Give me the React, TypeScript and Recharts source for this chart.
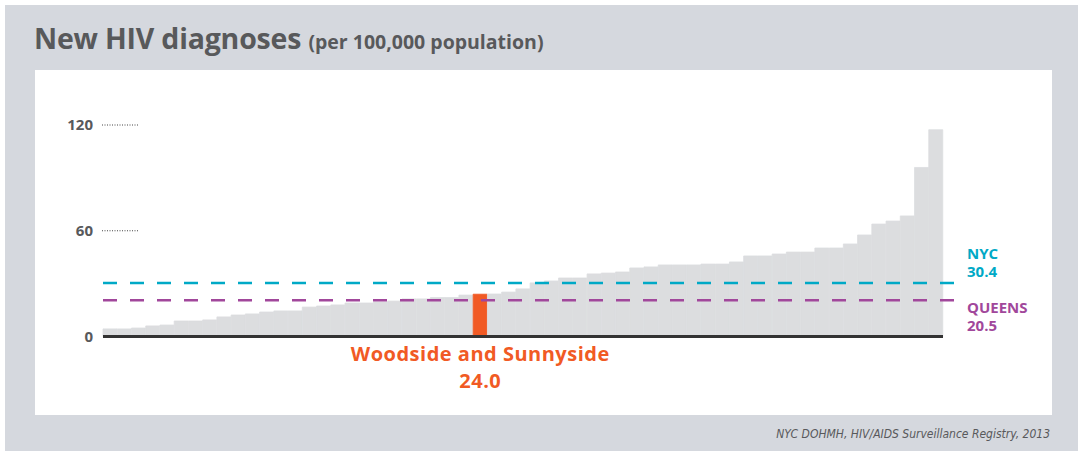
import React from 'react';
import { BarChart, Bar, XAxis, YAxis, Cell, ReferenceLine } from 'recharts';

// community district rates, sorted low to high
const rates = [
  4.3, 4.3, 4.8, 6.0, 6.5, 8.8, 8.8, 9.4, 11.1, 12.2,
  12.8, 13.9, 14.5, 14.5, 16.7, 17.3, 17.9, 19.0, 19.0, 19.6,
  20.1, 21.3, 21.3, 22.1, 22.1, 23.5, 24.0, 24.1, 25.2, 27.0,
  30.4, 31.5, 33.2, 33.2, 35.5, 36.0, 36.6, 38.9, 39.5, 40.6,
  40.6, 40.6, 41.1, 41.1, 42.3, 45.7, 45.7, 46.8, 47.9, 47.9,
  50.2, 50.2, 52.5, 57.6, 63.8, 65.5, 68.4, 95.9, 117.3,
];
const districts = rates.map((_, i) => `CD${i + 1}`);
const highlightIndex = 26;
const highlightName = 'Woodside and Sunnyside';
const highlightValue = '24.0';
const yTicks = [0, 60, 120];
const nycRate = 30.4;
const queensRate = 20.5;

const data = districts.map((name, i) => ({ name, rate: rates[i] }));

const GRAY_TEXT = '#58595b';
const ORANGE = '#f15a24';
const CYAN = '#00a9c6';
const PURPLE = '#a1479b';
const BAR_GRAY = '#dcdddf';
const FONT = '"Open Sans", Lato, sans-serif';

const YTick = (props: any) => {
  const { x, y, payload } = props;
  return (
    <g>
      <text x={x - 10} y={y} dy={5} textAnchor="end" fontFamily={FONT} fontWeight={700} fontSize={15} fill={GRAY_TEXT}>
        {payload.value}
      </text>
      {payload.value !== 0 && (
        <line x1={x - 1} x2={x + 36} y1={y} y2={y} stroke="#444" strokeWidth={1} strokeDasharray="1 1.5" />
      )}
    </g>
  );
};

const XTick = (props: any) => {
  const { x, y, index } = props;
  if (index !== highlightIndex) return null;
  return (
    <g fontFamily={FONT} fontWeight={700} fontSize={20} letterSpacing={0.5} fill={ORANGE} textAnchor="middle">
      <text x={x} y={y + 24}>{highlightName}</text>
      <text x={x} y={y + 51}>{highlightValue}</text>
    </g>
  );
};

const refLine = (color: string, top: string, bottom: string, above: boolean) => (props: any) => {
  const { x1, x2, y1 } = props;
  const ty = above ? y1 - 24 : y1 + 13;
  return (
    <g>
      <line x1={x1} x2={x2 + 17} y1={y1} y2={y1} stroke={color} strokeWidth={2.5} strokeDasharray="14 13" />
      <g fontFamily={FONT} fontWeight={700} fontSize={15} fill={color}>
        <text x={x2 + 24} y={ty}>{top}</text>
        <text x={x2 + 24} y={ty + 18}>{bottom}</text>
      </g>
    </g>
  );
};

export default function App() {
  return (
    <div style={{ position: 'absolute', left: 0, top: 0, width: 1078, height: 451, background: '#fff' }}>
      <div style={{ position: 'absolute', left: 5, top: 5, width: 1073, height: 446, background: '#d5d8de' }} />
      <div style={{ position: 'absolute', left: 35, top: 70, width: 1017, height: 345, background: '#fff' }} />
      <div
        style={{
          position: 'absolute', left: 34, top: 19, fontFamily: FONT, fontWeight: 700,
          color: GRAY_TEXT, fontSize: 28.5, whiteSpace: 'nowrap', letterSpacing: -0.2,
        }}
      >
        New HIV diagnoses <span style={{ fontSize: 19.5, letterSpacing: 0 }}>(per 100,000 population)</span>
      </div>
      <div
        style={{
          position: 'absolute', right: 28, top: 427, fontFamily: '"Liberation Sans Narrow", "DejaVu Sans Condensed", sans-serif',
          fontStyle: 'italic', color: GRAY_TEXT, fontSize: 12, whiteSpace: 'nowrap',
        }}
      >
        NYC DOHMH, HIV/AIDS Surveillance Registry, 2013
      </div>
      <div style={{ position: 'absolute', left: 0, top: 0 }}>
        <BarChart
          width={1078}
          height={451}
          data={data}
          margin={{ top: 125, right: 135, bottom: 0, left: 35 }}
          barCategoryGap={0}
          barGap={0}
        >
          <YAxis
            domain={[0, 120]}
            ticks={yTicks}
            width={68}
            axisLine={false}
            tickLine={false}
            tickSize={0}
            tickMargin={0}
            tick={<YTick />}
            interval={0}
          />
          <XAxis
            dataKey="name"
            height={114.5}
            axisLine={{ stroke: '#333', strokeWidth: 3 }}
            tickLine={false}
            tickSize={0}
            tickMargin={0}
            interval={0}
            tick={<XTick />}
          />
          <Bar dataKey="rate" isAnimationActive={false}>
            {data.map((d, i) => {
              const fill = i === highlightIndex ? ORANGE : BAR_GRAY;
              return <Cell key={d.name} fill={fill} stroke={fill} strokeWidth={0.8} />;
            })}
          </Bar>
          <ReferenceLine y={nycRate} shape={refLine(CYAN, 'NYC', nycRate.toFixed(1), true)} />
          <ReferenceLine y={queensRate} shape={refLine(PURPLE, 'QUEENS', queensRate.toFixed(1), false)} />
        </BarChart>
      </div>
    </div>
  );
}
